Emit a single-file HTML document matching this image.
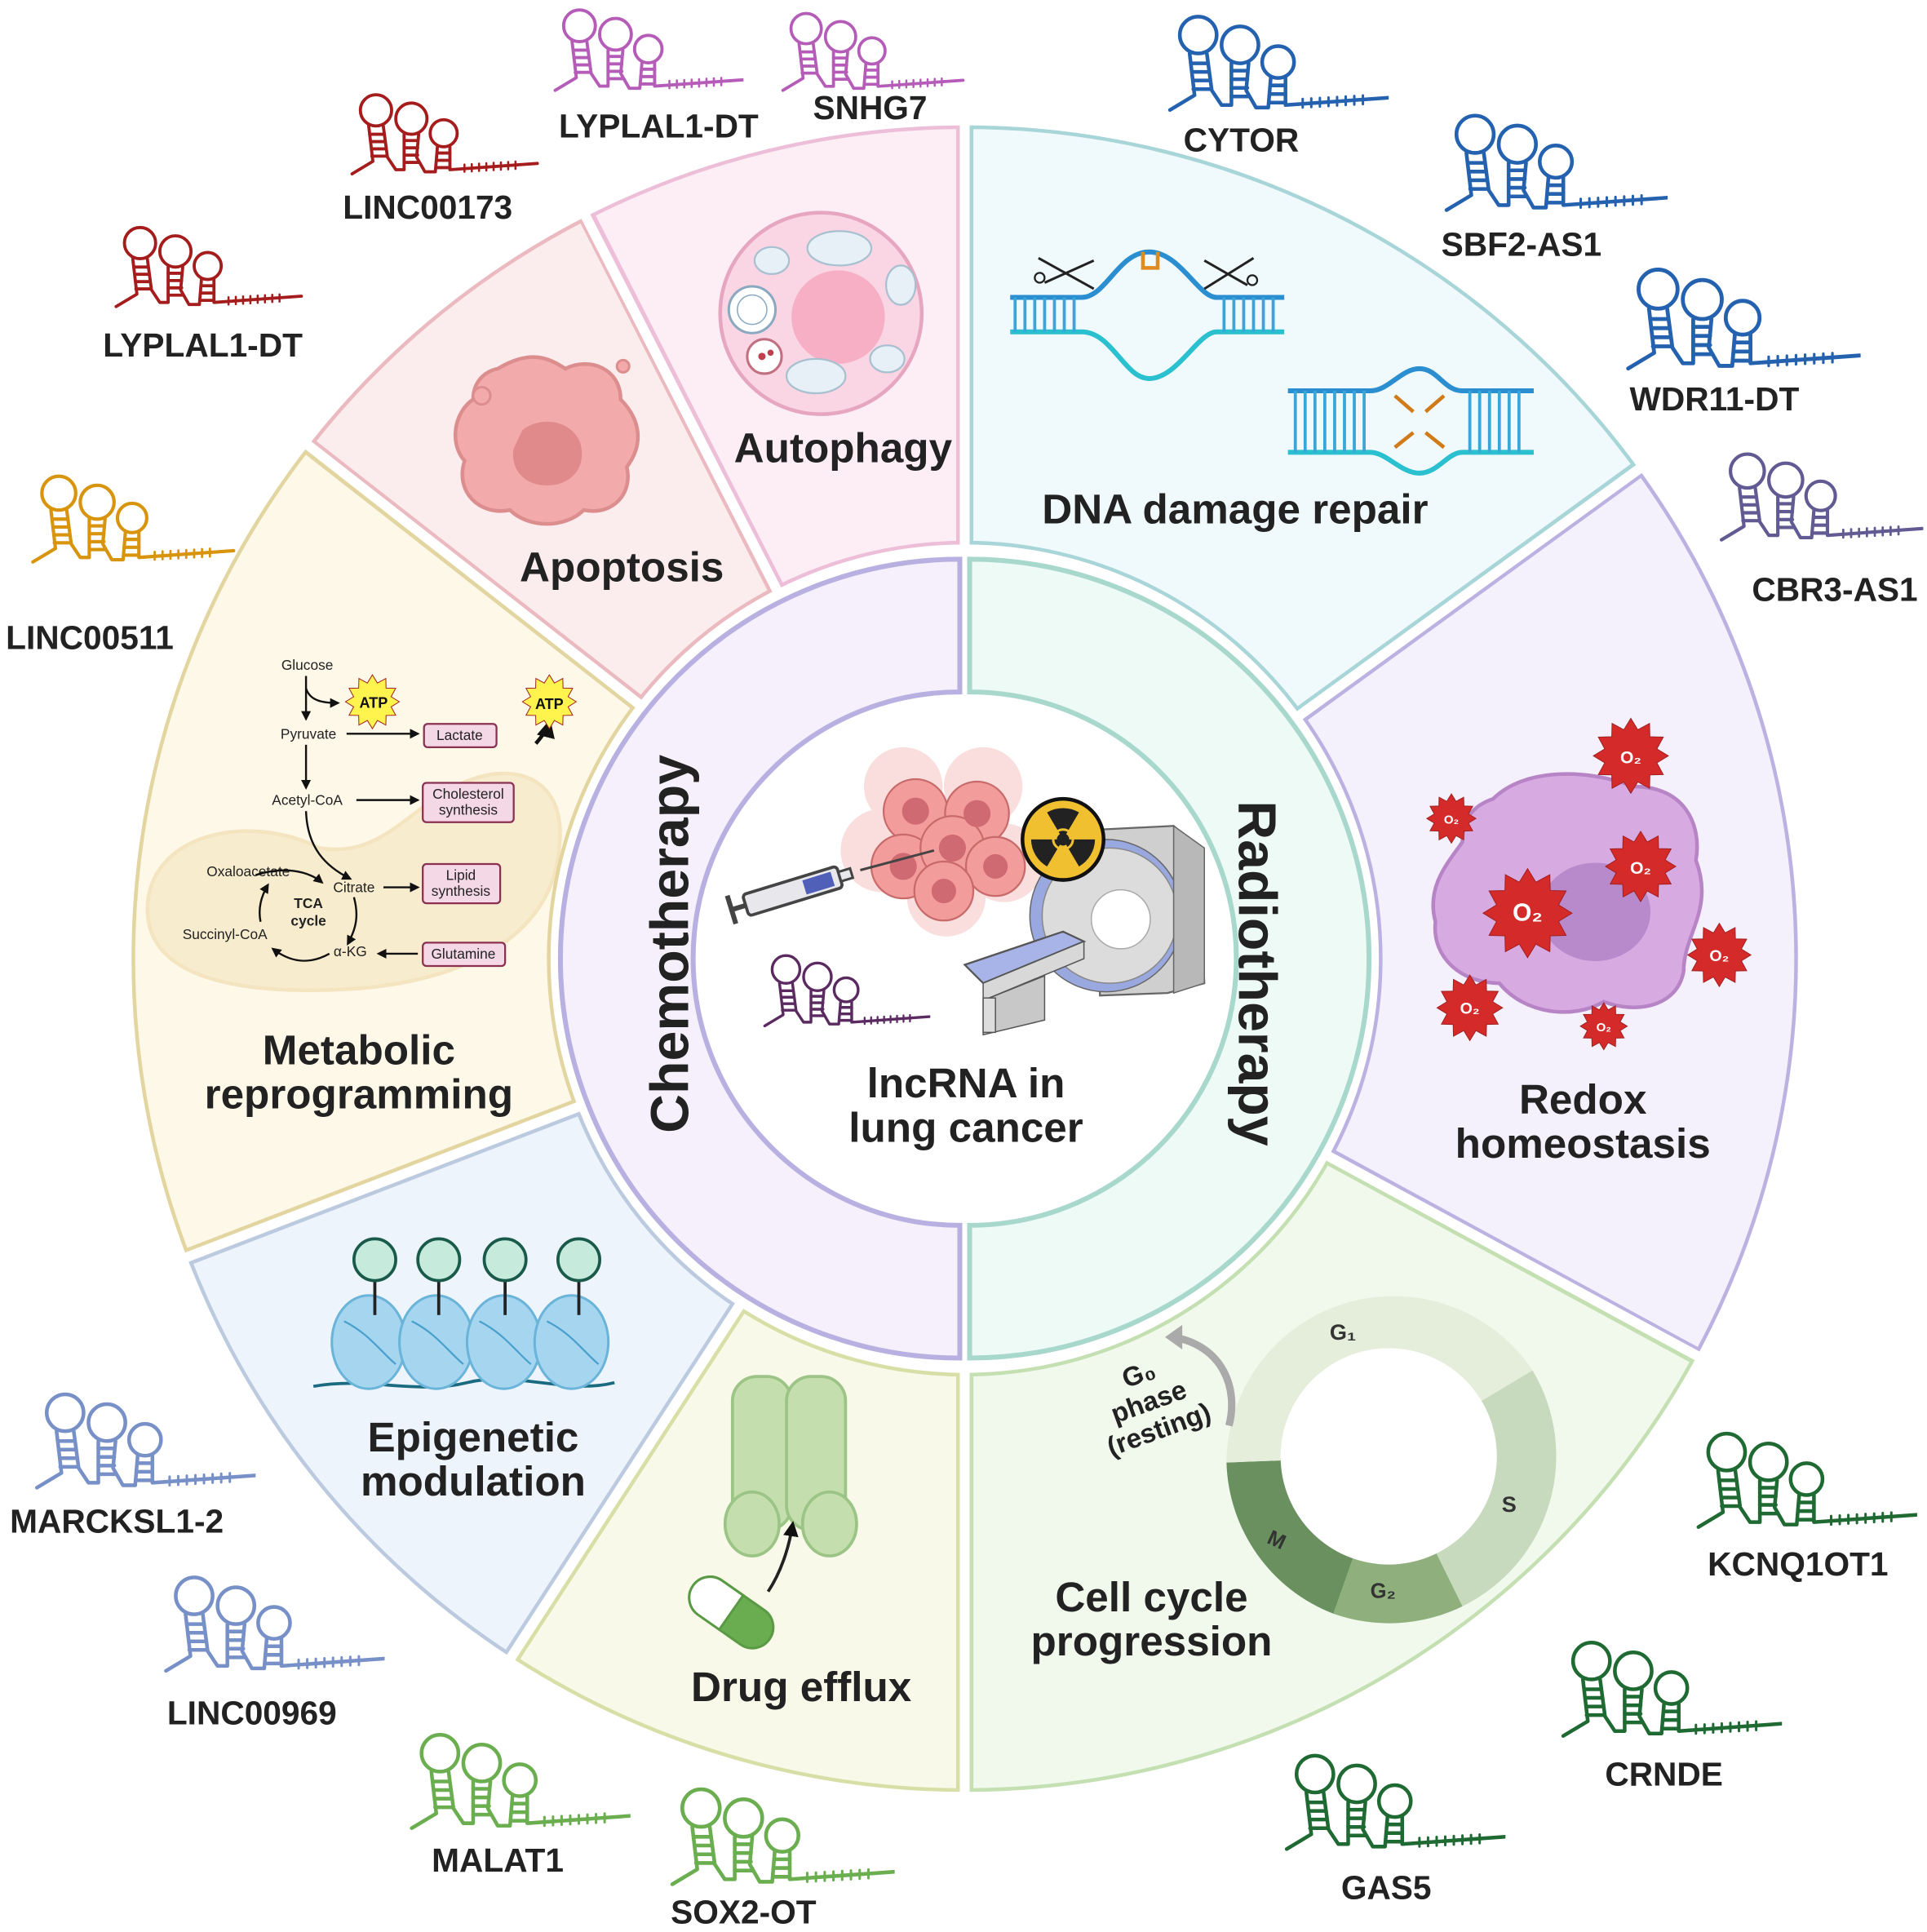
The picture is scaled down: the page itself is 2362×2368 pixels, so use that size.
<!DOCTYPE html>
<html><head><meta charset="utf-8"><style>
html,body{margin:0;padding:0;background:#fff}
svg{display:block}
text{font-family:"Liberation Sans",Arial,sans-serif}
.t{font-weight:bold;font-size:34px;fill:#222;text-anchor:middle}
.l{font-weight:bold;font-size:27px;fill:#222;text-anchor:middle}
.m{font-size:11.5px;fill:#222;text-anchor:middle}
.bx{fill:#f5d8e6;stroke:#8a3050;stroke-width:1.5}
.ar{fill:none;stroke:#111;stroke-width:1.6}
</style></head><body>
<svg width="2362" height="2368" viewBox="0 0 1568 1572" xmlns="http://www.w3.org/2000/svg">
<defs>
<marker id="ah" viewBox="0 0 10 10" refX="8" refY="5" markerWidth="5" markerHeight="5" orient="auto"><path d="M0,0 L10,5 L0,10 Z" fill="#111"/></marker>
<symbol id="r" viewBox="0 0 180 85">
<g fill="none" stroke="currentColor" stroke-width="3" stroke-linecap="round" stroke-linejoin="round">
<path d="M2,82 L22,70 L18,36 M32,36 L36,66 L44,78 L52,78 L52,44 M66,44 L64,66 L72,80 L82,80 L84,56 M96,56 L96,78 L180,72"/>
<circle cx="25" cy="21" r="15"/><circle cx="59" cy="29" r="15"/><circle cx="90" cy="43" r="13"/>
<path d="M19,44 H32 M20,51 H33 M21,58 H34 M21,65 H35 M52,50 H65 M52,57 H65 M52,64 H65 M52,71 H66 M84,62 H96 M84,69 H96 M84,76 H96"/>
<path d="M110,73 V80 M117,72.6 V79.6 M124,72.2 V79.2 M131,71.8 V78.8 M138,71.4 V78.4 M145,71 V78 M152,70.6 V77.6 M159,70.2 V77.2" stroke-width="2"/>
</g></symbol>
<symbol id="st" viewBox="-1.05 -1.05 2.1 2.1"><polygon points="1,0 .696,.186 .866,.5 .509,.509 .5,.866 .186,.696 0,1 -.186,.696 -.5,.866 -.509,.509 -.866,.5 -.696,.186 -1,0 -.696,-.186 -.866,-.5 -.509,-.509 -.5,-.866 -.186,-.696 0,-1 .186,-.696 .5,-.866 .509,-.509 .866,-.5 .696,-.186" fill="currentColor" stroke="#a02020" stroke-width="1" vector-effect="non-scaling-stroke"/></symbol>
<clipPath id="c1"><path id="s1" d="M785,98 A682,682 0 0 1 1336.7,379.1 L1054.4,584.3 A333,333 0 0 0 785,447 Z"/></clipPath>
<clipPath id="c2"><path id="s2" d="M1336.7,379.1 A682,682 0 0 1 1384.3,1105.5 L1077.6,938.9 A333,333 0 0 0 1054.4,584.3 Z"/></clipPath>
<clipPath id="c3"><path id="s3" d="M1384.3,1105.5 A682,682 0 0 1 785,1462 L785,1113 A333,333 0 0 0 1077.6,938.9 Z"/></clipPath>
<clipPath id="c4"><path id="s4" d="M785,1462 A682,682 0 0 1 413.6,1352 L603.6,1059.3 A333,333 0 0 0 785,1113 Z"/></clipPath>
<clipPath id="c5"><path id="s5" d="M413.6,1352 A682,682 0 0 1 148.3,1024.4 L474.1,899.3 A333,333 0 0 0 603.6,1059.3 Z"/></clipPath>
<clipPath id="c6"><path id="s6" d="M148.3,1024.4 A682,682 0 0 1 247.6,360.1 L522.6,575 A333,333 0 0 0 474.1,899.3 Z"/></clipPath>
<clipPath id="c7"><path id="s7" d="M247.6,360.1 A682,682 0 0 1 475.4,172.3 L633.8,483.3 A333,333 0 0 0 522.6,575 Z"/></clipPath>
<clipPath id="c8"><path id="s8" d="M475.4,172.3 A682,682 0 0 1 785,98 L785,447 A333,333 0 0 0 633.8,483.3 Z"/></clipPath>
</defs>

<use href="#s1" clip-path="url(#c1)" fill="#f0f9fb" stroke="#a8d5d8" stroke-width="14"/>
<use href="#s2" clip-path="url(#c2)" fill="#f4f0fc" stroke="#bcb2e2" stroke-width="14"/>
<use href="#s3" clip-path="url(#c3)" fill="#f1f8ec" stroke="#c4e0b2" stroke-width="14"/>
<use href="#s4" clip-path="url(#c4)" fill="#f8f9e8" stroke="#d8dfa6" stroke-width="14"/>
<use href="#s5" clip-path="url(#c5)" fill="#eef4fb" stroke="#bccae0" stroke-width="14"/>
<use href="#s6" clip-path="url(#c6)" fill="#fdf8e8" stroke="#e2d5a0" stroke-width="14"/>
<use href="#s7" clip-path="url(#c7)" fill="#fbeced" stroke="#ebbac0" stroke-width="14"/>
<use href="#s8" clip-path="url(#c8)" fill="#fdeef6" stroke="#edbed8" stroke-width="14"/>
<g stroke="#fff" stroke-width="8" fill="none">
<circle cx="785" cy="780" r="333"/><circle cx="785" cy="780" r="682"/>
<path d="M785,447 L785,94 M1054.4,584.3 L1340,377 M1077.6,938.9 L1388,1107 M785,1113 L785,1466 M603.6,1059.3 L411,1356 M474.1,899.3 L144,1026 M522.6,575 L244,357 M633.8,483.3 L473,169"/>
</g>

<path d="M781,455 A325,325 0 0 0 781,1105 L781,997 A217,217 0 0 1 781,563 Z" fill="#f5f0fc" stroke="#b8b0e0" stroke-width="4"/>
<path d="M789,455 A325,325 0 0 1 789,1105 L789,997 A217,217 0 0 0 789,563 Z" fill="#eefaf6" stroke="#a8d8cc" stroke-width="4"/>
<text transform="translate(560,768) rotate(-90)" text-anchor="middle" font-weight="bold" font-size="44" fill="#222">Chemotherapy</text>
<text transform="translate(1008,792) rotate(90)" text-anchor="middle" font-weight="bold" font-size="44" fill="#222">Radiotherapy</text>

<g>
<g fill="#f4b8b8" opacity=".45"><circle cx="735" cy="640" r="32"/><circle cx="800" cy="640" r="32"/><circle cx="718" cy="692" r="34"/><circle cx="817" cy="702" r="32"/><circle cx="770" cy="730" r="32"/></g>
<g fill="#f29c9c" stroke="#c86a6a" stroke-width="1.5"><circle cx="745" cy="660" r="26"/><circle cx="795" cy="662" r="26"/><circle cx="735" cy="705" r="26"/><circle cx="775" cy="690" r="26"/><circle cx="810" cy="705" r="24"/><circle cx="768" cy="725" r="24"/></g>
<g fill="#d06a72"><circle cx="745" cy="660" r="11"/><circle cx="795" cy="662" r="11"/><circle cx="735" cy="705" r="11"/><circle cx="775" cy="690" r="11"/><circle cx="810" cy="705" r="10"/><circle cx="768" cy="725" r="10"/></g>
<line x1="700" y1="708" x2="760" y2="692" stroke="#444" stroke-width="2"/>
<g transform="translate(645,725) rotate(-17)"><rect x="-40" y="-9" width="80" height="18" rx="3" fill="#e8e8ec" stroke="#444" stroke-width="2.5"/><rect x="10" y="-6" width="24" height="12" fill="#5060b8"/><rect x="40" y="-4" width="10" height="8" fill="#e8e8ec" stroke="#444" stroke-width="2"/><line x1="-40" y1="0" x2="-52" y2="0" stroke="#444" stroke-width="4"/><line x1="-52" y1="-12" x2="-52" y2="12" stroke="#444" stroke-width="4"/></g>
<g><path d="M895,675 L955,672 L975,690 L980,800 L950,808 L895,810 Z" fill="#cfcfcf" stroke="#666" stroke-width="1.5"/><circle cx="900" cy="745" r="62" fill="#9aa8e0" stroke="#666"/><circle cx="903" cy="745" r="55" fill="#dcdcdc" stroke="#888"/><circle cx="912" cy="748" r="24" fill="#fff" stroke="#aaa"/><path d="M955,672 L980,690 L980,800 L955,808 Z" fill="#b8b8b8" stroke="#666"/></g>
<g><polygon points="785,785 865,758 882,766 800,800" fill="#a8b4e8" stroke="#555" stroke-width="1.5"/><polygon points="800,800 882,766 882,780 800,814" fill="#d8d8d8" stroke="#555"/><polygon points="800,814 850,794 850,830 800,842" fill="#c8c8c8" stroke="#555"/><rect x="800" y="812" width="10" height="28" fill="#ddd" stroke="#555"/></g>
<circle cx="865" cy="683" r="33" fill="#f0c030" stroke="#111" stroke-width="3"/>
<g fill="#222"><circle cx="865" cy="683" r="5"/><path d="M865,683 L852,661 A26,26 0 0 1 878,661 Z"/><path d="M865,683 L891,683 A26,26 0 0 1 878,705 Z"/><path d="M865,683 L852,705 A26,26 0 0 1 839,683 Z"/></g>
<circle cx="865" cy="683" r="8" fill="none" stroke="#f0c030" stroke-width="2"/>
<use href="#r" x="620" y="773" width="137" height="64" style="color:#5a2a60"/>
<text class="t" x="786" y="893">lncRNA in</text>
<text class="t" x="786" y="929">lung cancer</text>
</g>

<circle cx="668" cy="255" r="82" fill="#fad6e4" stroke="#e6a6c0" stroke-width="3"/>
<circle cx="682" cy="258" r="38" fill="#f7afc6"/>
<g fill="#e6f0f6" stroke="#a8c0d0" stroke-width="1.5"><ellipse cx="628" cy="212" rx="14" ry="11"/><ellipse cx="683" cy="202" rx="26" ry="14"/><ellipse cx="733" cy="232" rx="12" ry="16"/><ellipse cx="664" cy="306" rx="24" ry="14"/><ellipse cx="722" cy="292" rx="14" ry="11"/></g>
<circle cx="612" cy="252" r="19" fill="#fff" stroke="#8aa8c0" stroke-width="2"/><circle cx="612" cy="252" r="12" fill="none" stroke="#8aa8c0"/>
<circle cx="622" cy="290" r="14" fill="#fff" stroke="#c07080" stroke-width="2"/><circle cx="620" cy="290" r="3" fill="#c04050"/><circle cx="627" cy="287" r="2.5" fill="#c04050"/>
<text class="t" x="686" y="376">Autophagy</text>

<path d="M405,300 C430,285 445,290 460,300 C480,290 505,300 505,325 C520,340 525,360 510,380 C515,400 500,420 475,415 C460,430 430,430 415,415 C390,420 370,400 378,375 C365,360 370,335 385,325 C385,310 395,302 405,300 Z" fill="#f2aaaa" stroke="#dc8e8e" stroke-width="3"/>
<path d="M425,350 C440,338 465,342 472,360 C478,380 465,395 445,395 C425,395 415,380 418,365 Z" fill="#e08a8c"/>
<circle cx="392" cy="322" r="7" fill="#f2aaaa" stroke="#dc8e8e" stroke-width="2"/><circle cx="507" cy="298" r="5" fill="#f2aaaa" stroke="#dc8e8e" stroke-width="2"/>
<text class="t" x="506" y="473">Apoptosis</text>

<g stroke-width="4" fill="none">
<path d="M822,242 H880 C900,242 910,205 935,205 C960,205 975,242 990,242 H1045" stroke="#2a8ed0"/>
<path d="M822,270 H880 C905,270 915,308 935,308 C958,308 975,270 990,270 H1045" stroke="#2ac0d0"/>
<path d="M826,242 V270 M834,242 V270 M842,242 V270 M850,242 V270 M858,242 V270 M866,242 V270 M874,242 V270 M996,242 V270 M1004,242 V270 M1012,242 V270 M1020,242 V270 M1028,242 V270 M1036,242 V270" stroke="#3aa6d8" stroke-width="2.5"/>
<path d="M1048,318 H1115 C1130,318 1140,300 1155,300 C1170,300 1175,318 1190,318 H1248" stroke="#2a8ed0"/>
<path d="M1048,368 H1115 C1128,368 1140,385 1155,385 C1170,385 1178,368 1190,368 H1248" stroke="#2ac0d0"/>
<path d="M1054,318 V368 M1062,318 V368 M1070,318 V368 M1078,318 V368 M1086,318 V368 M1094,318 V368 M1102,318 V368 M1110,318 V368 M1196,318 V368 M1204,318 V368 M1212,318 V368 M1220,318 V368 M1228,318 V368 M1236,318 V368" stroke="#3aa6d8" stroke-width="2.5"/>
<path d="M930,205 V218 H942 V205" stroke="#e08a20" stroke-width="3"/>
<path d="M1135,322 L1150,335 M1175,322 L1160,335 M1135,364 L1150,352 M1175,364 L1160,352" stroke="#d07a18" stroke-width="3"/>
<path d="M845,210 L890,235 M850,230 L890,212 M1020,210 L980,235 M1015,232 L980,212" stroke="#222" stroke-width="2"/>
<circle cx="846" cy="226" r="4" stroke="#222" stroke-width="1.5"/><circle cx="1019" cy="228" r="4" stroke="#222" stroke-width="1.5"/>
</g>
<text class="t" x="1005" y="426">DNA damage repair</text>

<path d="M1215,650 C1240,625 1290,625 1330,640 C1370,640 1385,670 1380,700 C1395,740 1370,760 1370,790 C1365,820 1330,825 1305,815 C1280,830 1240,825 1220,800 C1190,800 1165,780 1168,750 C1160,720 1180,700 1190,685 C1190,665 1200,655 1215,650 Z" fill="#d8aae2" stroke="#b784c6" stroke-width="3"/>
<ellipse cx="1298" cy="742" rx="45" ry="40" fill="#b98acb"/>
<g style="color:#d42a2a">
<use href="#st" x="1295" y="583" width="64" height="64"/><use href="#st" x="1160" y="645" width="42" height="42"/><use href="#st" x="1305" y="675" width="60" height="60"/><use href="#st" x="1205" y="705" width="76" height="76"/><use href="#st" x="1372" y="750" width="54" height="54"/><use href="#st" x="1168" y="792" width="56" height="56"/><use href="#st" x="1285" y="815" width="40" height="40"/>
</g>
<g fill="#fff" font-weight="bold" text-anchor="middle"><text x="1327" y="621" font-size="14">O₂</text><text x="1181" y="670" font-size="10">O₂</text><text x="1335" y="711" font-size="14">O₂</text><text x="1243" y="749" font-size="20">O₂</text><text x="1399" y="782" font-size="13">O₂</text><text x="1196" y="825" font-size="13">O₂</text><text x="1305" y="839" font-size="10">O₂</text></g>
<text class="t" x="1288" y="906">Redox</text>
<text class="t" x="1288" y="942">homeostasis</text>

<g transform="translate(1130,1185)">
<path d="M0,0 L117,-70 A136,136 0 0 1 60,122 Z" fill="#c7dabd"/>
<path d="M0,0 L60,122 A136,136 0 0 1 -45,128 Z" fill="#8fb07c"/>
<path d="M0,0 L-45,128 A136,136 0 0 1 -132,5 Z" fill="#6a9060"/>
<path d="M-132,5 A136,136 0 0 1 117,-70 L0,0 Z" fill="#e5eddb"/>
<circle r="88" fill="#fff"/>
<text x="-48" y="-95" font-size="18" font-weight="bold" fill="#333">G₁</text>
<text x="92" y="45" font-size="18" font-weight="bold" fill="#333">S</text>
<text x="-15" y="115" font-size="17" font-weight="bold" fill="#333">G₂</text>
<text x="-100" y="70" font-size="17" font-weight="bold" fill="#333" transform="rotate(25,-100,70)">M</text>
</g>
<path d="M1000,1160 C1008,1130 995,1095 955,1088" fill="none" stroke="#aaa" stroke-width="6"/>
<polygon points="948,1088 962,1078 962,1098" fill="#aaa"/>
<g transform="translate(940,1155) rotate(-20)" font-weight="bold" font-size="22" fill="#222" text-anchor="middle"><text x="0" y="-32">G₀</text><text x="0" y="-8">phase</text><text x="0" y="16">(resting)</text></g>
<text class="t" x="937" y="1311">Cell cycle</text>
<text class="t" x="937" y="1347">progression</text>

<g fill="#c4dfad" stroke="#9cc486" stroke-width="2.5">
<rect x="596" y="1120" width="48" height="125" rx="20"/><rect x="640" y="1120" width="48" height="125" rx="20"/>
<ellipse cx="612" cy="1240" rx="22" ry="26"/><ellipse cx="675" cy="1240" rx="22" ry="26"/>
</g>
<path d="M625,1295 C635,1280 642,1260 645,1240" fill="none" stroke="#222" stroke-width="2.5" marker-end="url(#ah)"/>
<g transform="translate(595,1312) rotate(35)"><rect x="-38" y="-17" width="76" height="34" rx="17" fill="#6aac50" stroke="#5a9a44" stroke-width="2"/><path d="M0,-17 H-21 A17,17 0 0 0 -21,17 H0 Z" fill="#fff" stroke="#5a9a44" stroke-width="2"/></g>
<text class="t" x="652" y="1384">Drug efflux</text>

<path d="M255,1128 C300,1120 340,1135 380,1125 C420,1115 460,1135 500,1125" fill="none" stroke="#1a6a80" stroke-width="2.5"/>
<g fill="#a6d6ef" stroke="#6ab4da" stroke-width="2">
<ellipse cx="300" cy="1092" rx="30" ry="38"/><ellipse cx="355" cy="1092" rx="30" ry="38"/><ellipse cx="410" cy="1092" rx="30" ry="38"/><ellipse cx="465" cy="1092" rx="30" ry="38"/>
</g>
<g fill="none" stroke="#4aa0cc" stroke-width="1.5"><path d="M280,1075 C300,1085 310,1100 322,1110 M335,1075 C355,1085 365,1100 377,1110 M390,1075 C410,1085 420,1100 432,1110 M445,1075 C465,1085 475,1100 487,1110"/></g>
<g stroke="#222" stroke-width="2.5"><line x1="305" y1="1042" x2="305" y2="1070"/><line x1="357" y1="1042" x2="357" y2="1070"/><line x1="411" y1="1042" x2="411" y2="1070"/><line x1="471" y1="1042" x2="471" y2="1070"/></g>
<g fill="#c6ebdd" stroke="#1a5a4a" stroke-width="2.5"><circle cx="305" cy="1025" r="17"/><circle cx="357" cy="1025" r="17"/><circle cx="411" cy="1025" r="17"/><circle cx="471" cy="1025" r="17"/></g>
<text class="t" x="385" y="1181">Epigenetic</text>
<text class="t" x="385" y="1217">modulation</text>

<path d="M120,740 C120,680 200,660 260,690 C320,700 340,640 400,630 C440,625 460,650 455,690 C450,760 380,800 280,805 C180,810 120,790 120,740 Z" fill="#f5e2b5" opacity=".5" stroke="#ecd29a" stroke-width="3"/>
<g class="m">
<text x="250" y="545">Glucose</text><text x="251" y="601">Pyruvate</text><text x="250" y="655">Acetyl-CoA</text><text x="202" y="713">Oxaloacetate</text><text x="288" y="726">Citrate</text><text x="183" y="764">Succinyl-CoA</text><text x="285" y="778">α-KG</text>
<text x="251" y="739" font-weight="bold">TCA</text><text x="251" y="753" font-weight="bold">cycle</text>
</g>
<rect class="bx" x="345" y="589" width="59" height="19" rx="3"/><text class="m" x="374" y="602">Lactate</text>
<rect class="bx" x="344" y="637" width="74" height="32" rx="3"/><text class="m" x="381" y="650">Cholesterol</text><text class="m" x="381" y="663">synthesis</text>
<rect class="bx" x="344" y="703" width="63" height="32" rx="3"/><text class="m" x="375" y="716">Lipid</text><text class="m" x="375" y="729">synthesis</text>
<rect class="bx" x="344" y="767" width="67" height="19" rx="3"/><text class="m" x="377" y="780">Glutamine</text>
<g class="ar" marker-end="url(#ah)">
<path d="M249,550 V585"/><path d="M249,560 C252,570 262,572 275,572"/><path d="M282,597 H340"/><path d="M249,606 V641"/><path d="M290,651 H340"/><path d="M249,660 C250,690 265,705 285,715"/><path d="M312,722 H340"/><path d="M340,776 H308"/><path d="M288,730 C292,745 290,755 283,768"/><path d="M268,776 C250,786 235,782 222,772"/><path d="M212,750 C210,740 212,730 218,720"/><path d="M208,712 C230,705 250,708 262,718"/>
<path d="M436,605 C442,598 446,592 447,588" stroke-width="3"/>
</g>
<g style="color:#fff34d"><use href="#st" x="276" y="548" width="54" height="46"/><use href="#st" x="420" y="548" width="54" height="46"/></g>
<text x="304" y="576" font-size="12" font-weight="bold" text-anchor="middle" fill="#111">ATP</text>
<text x="447" y="577" font-size="12" font-weight="bold" text-anchor="middle" fill="#111">ATP</text>
<text class="t" x="292" y="866">Metabolic</text>
<text class="t" x="292" y="902">reprogramming</text>

<g>
<use href="#r" x="450" y="2" width="155" height="75" style="color:#b45cb8"/><text class="l" x="536" y="112">LYPLAL1-DT</text>
<use href="#r" x="632" y="6" width="155" height="70" style="color:#b45cb8"/><text class="l" x="708" y="97">SNHG7</text>
<use href="#r" x="272" y="72" width="178" height="72" style="color:#a51c1c"/><text class="l" x="348" y="178">LINC00173</text>
<use href="#r" x="80" y="180" width="178" height="72" style="color:#a51c1c"/><text class="l" x="165" y="290">LYPLAL1-DT</text>
<use href="#r" x="18" y="382" width="179" height="78" style="color:#d8940c"/><text class="l" x="73" y="528">LINC00511</text>
<use href="#r" x="950" y="5" width="180" height="90" style="color:#2462b0"/><text class="l" x="1010" y="123">CYTOR</text>
<use href="#r" x="1175" y="88" width="182" height="86" style="color:#2462b0"/><text class="l" x="1238" y="208">SBF2-AS1</text>
<use href="#r" x="1322" y="213" width="192" height="90" style="color:#2462b0"/><text class="l" x="1395" y="334">WDR11-DT</text>
<use href="#r" x="1398" y="364" width="167" height="78" style="color:#625a92"/><text class="l" x="1493" y="489">CBR3-AS1</text>
<use href="#r" x="1380" y="1158" width="180" height="90" style="color:#1e6a32"/><text class="l" x="1463" y="1282">KCNQ1OT1</text>
<use href="#r" x="1270" y="1328" width="180" height="90" style="color:#1e6a32"/><text class="l" x="1354" y="1453">CRNDE</text>
<use href="#r" x="1045" y="1420" width="180" height="90" style="color:#1e6a32"/><text class="l" x="1128" y="1545">GAS5</text>
<use href="#r" x="545" y="1448" width="183" height="90" style="color:#6aae50"/><text class="l" x="605" y="1565">SOX2-OT</text>
<use href="#r" x="333" y="1403" width="180" height="90" style="color:#6aae50"/><text class="l" x="405" y="1523">MALAT1</text>
<use href="#r" x="28" y="1127" width="180" height="88" style="color:#7890c8"/><text class="l" x="95" y="1247">MARCKSL1-2</text>
<use href="#r" x="133" y="1275" width="180" height="90" style="color:#7890c8"/><text class="l" x="205" y="1403">LINC00969</text>
</g>
</svg>
</body></html>
